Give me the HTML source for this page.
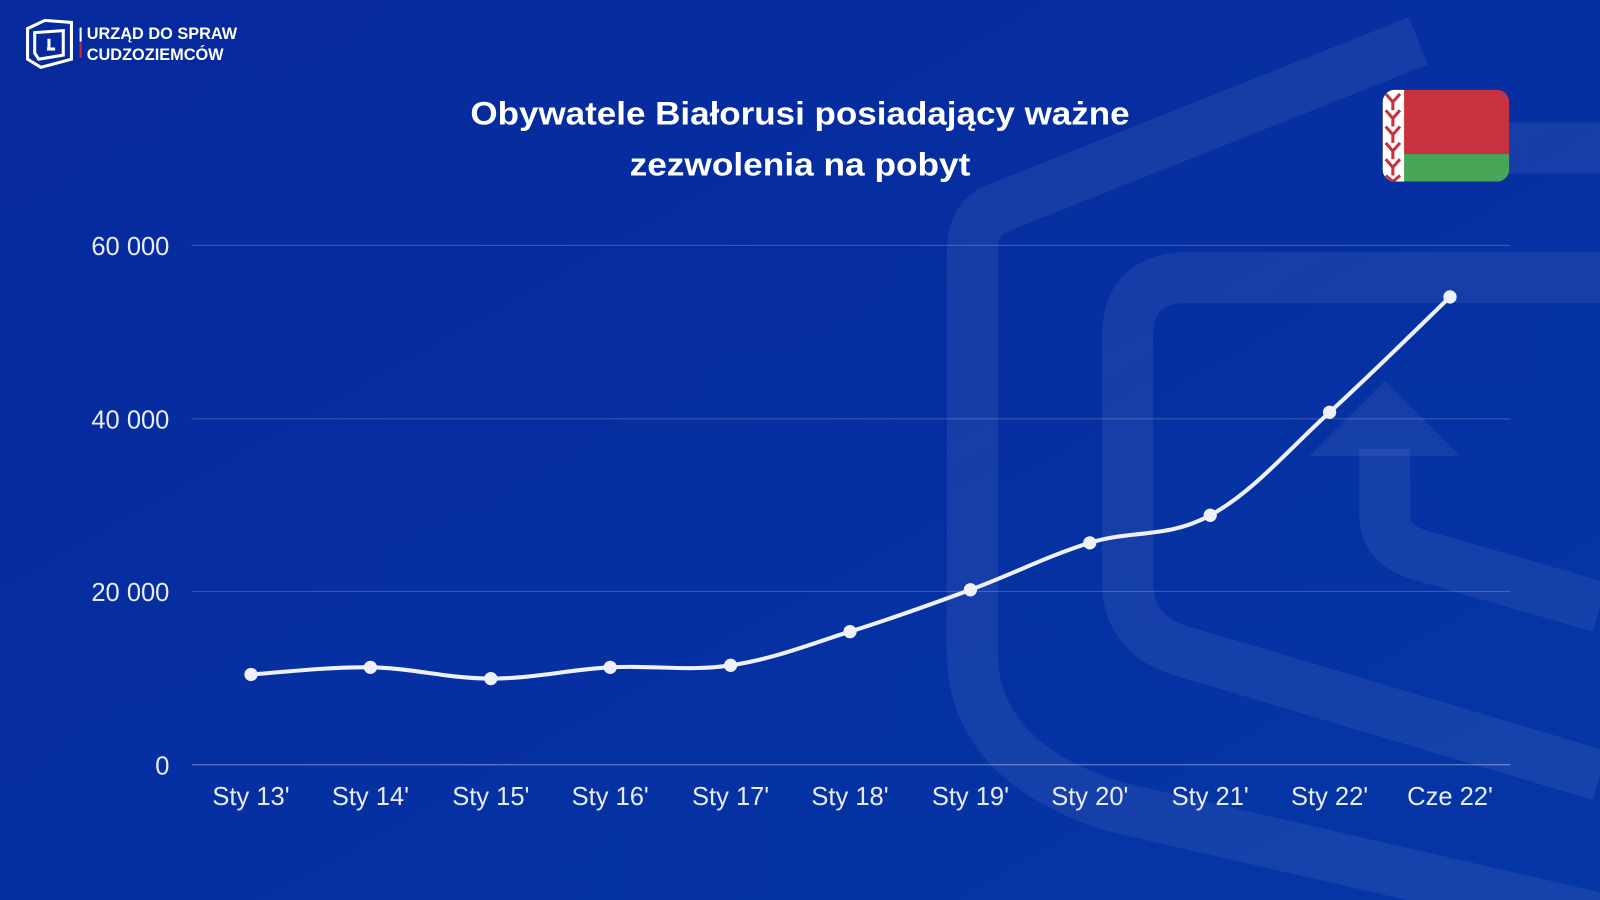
<!DOCTYPE html>
<html><head><meta charset="utf-8"><style>
html,body{margin:0;padding:0;width:1600px;height:900px;overflow:hidden;background:#0533a3}
svg{display:block}
text{font-family:"Liberation Sans",sans-serif}
</style></head><body>
<svg id="s" width="1600" height="900" viewBox="0 0 1568 882" preserveAspectRatio="none">
<defs><linearGradient id="bg" x1="0" y1="0" x2="1" y2="1">
<stop offset="0" stop-color="#06299c"/><stop offset="1" stop-color="#0536a6"/></linearGradient></defs>
<rect width="1568" height="882" fill="url(#bg)"/>
<g fill="none" stroke="#ffffff" stroke-opacity="0.065" stroke-width="50">
<path d="M1390,40 L975,205 Q953,215 953,245 L953,640 Q953,745 1090,790 L1568,900"/>
<path d="M1380,145 L1568,145"/>
<path d="M1568,272 L1165,272 Q1105,272 1105,330 L1105,570 Q1105,625 1165,640 L1568,760"/>
<path d="M1357,440 L1357,505 Q1357,535 1395,545 L1568,595"/>
</g>
<polygon points="1283,447 1357,373 1431,447" fill="#fff" fill-opacity="0.065"/>
<g stroke="#ffffff" stroke-opacity="0.22" stroke-width="1">
<line x1="188" y1="240.5" x2="1480" y2="240.5"/>
<line x1="188" y1="410.5" x2="1480" y2="410.5"/>
<line x1="188" y1="579.5" x2="1480" y2="579.5"/>
</g>
<line x1="188" y1="749.5" x2="1480" y2="749.5" stroke="#ffffff" stroke-opacity="0.45"/>
<g fill="#e8ecf7" font-size="25" text-anchor="end">
<text x="166" y="250">60 000</text><text x="166" y="420">40 000</text>
<text x="166" y="589">20 000</text><text x="166" y="759">0</text>
</g>
<g id="xl" fill="#e8ecf7" font-size="25" text-anchor="middle"></g>
<path id="ln" fill="none" stroke="#eef1fa" stroke-width="4"/>
<g id="pts" fill="#eef1fa"></g>
<g fill="#fff" font-size="32" font-weight="bold" text-anchor="middle">
<text x="784" y="122" textLength="646" lengthAdjust="spacingAndGlyphs">Obywatele Białorusi posiadający ważne</text>
<text x="784" y="172" textLength="334" lengthAdjust="spacingAndGlyphs">zezwolenia na pobyt</text>
</g>
<clipPath id="fc"><rect x="1355" y="88" width="124" height="90" rx="12"/></clipPath>
<g clip-path="url(#fc)">
<rect x="1355" y="88" width="124" height="63" fill="#c8313e"/>
<rect x="1355" y="151" width="124" height="27" fill="#4aa657"/>
<rect x="1355" y="88" width="21" height="90" fill="#fff"/>
<path d="M1358,92 l7,8 l7,-8 M1358,108 l7,8 l7,-8 M1358,124 l7,8 l7,-8 M1358,140 l7,8 l7,-8 M1358,156 l7,8 l7,-8 M1358,172 l7,6 l7,-6 M1365,100 l0,8 M1365,116 l0,8 M1365,132 l0,8 M1365,148 l0,8 M1365,164 l0,8" stroke="#c8313e" stroke-width="3" fill="none"/>
</g>
<g fill="none" stroke="#fff" stroke-width="3">
<path d="M27,28 L44,20 L70,22 L70,58 L40,66 L27,58 Z"/>
<path d="M34,32 L62,30 L62,54 L38,58 L34,52 Z"/>
<path d="M46,48 L54,48 M48,38 L48,48"/>
</g>
<rect x="78" y="27" width="2" height="14" fill="#fff"/>
<rect x="78" y="42" width="2" height="15" fill="#d4213d"/>
<g fill="#fff" font-size="16" font-weight="bold">
<text x="85" y="38">URZĄD DO SPRAW</text><text x="85" y="59">CUDZOZIEMCÓW</text>
</g>
</svg>
<script>
var X=[246,363,481,598,716,833,951,1068,1186,1303,1421],Y=[661,654,665,654,652,619,578,532,505,404,291];
var L=["Sty 13'","Sty 14'","Sty 15'","Sty 16'","Sty 17'","Sty 18'","Sty 19'","Sty 20'","Sty 21'","Sty 22'","Cze 22'"];
var ns="http://www.w3.org/2000/svg",d="M"+X[0]+","+Y[0],t=0.18;
for(var i=0;i<X.length-1;i++){var p0=i?i-1:i,p3=i+2<X.length?i+2:i+1;
d+=" C"+(X[i]+(X[i+1]-X[p0])*t)+","+(Y[i]+(Y[i+1]-Y[p0])*t)+" "+(X[i+1]-(X[p3]-X[i])*t)+","+(Y[i+1]-(Y[p3]-Y[i])*t)+" "+X[i+1]+","+Y[i+1];}
document.getElementById("ln").setAttribute("d",d);
for(var i=0;i<X.length;i++){var c=document.createElementNS(ns,"circle");c.setAttribute("cx",X[i]);c.setAttribute("cy",Y[i]);c.setAttribute("r",6.5);document.getElementById("pts").appendChild(c);
var tx=document.createElementNS(ns,"text");tx.setAttribute("x",X[i]);tx.setAttribute("y",789);tx.textContent=L[i];document.getElementById("xl").appendChild(tx);}
</script>
</body></html>
